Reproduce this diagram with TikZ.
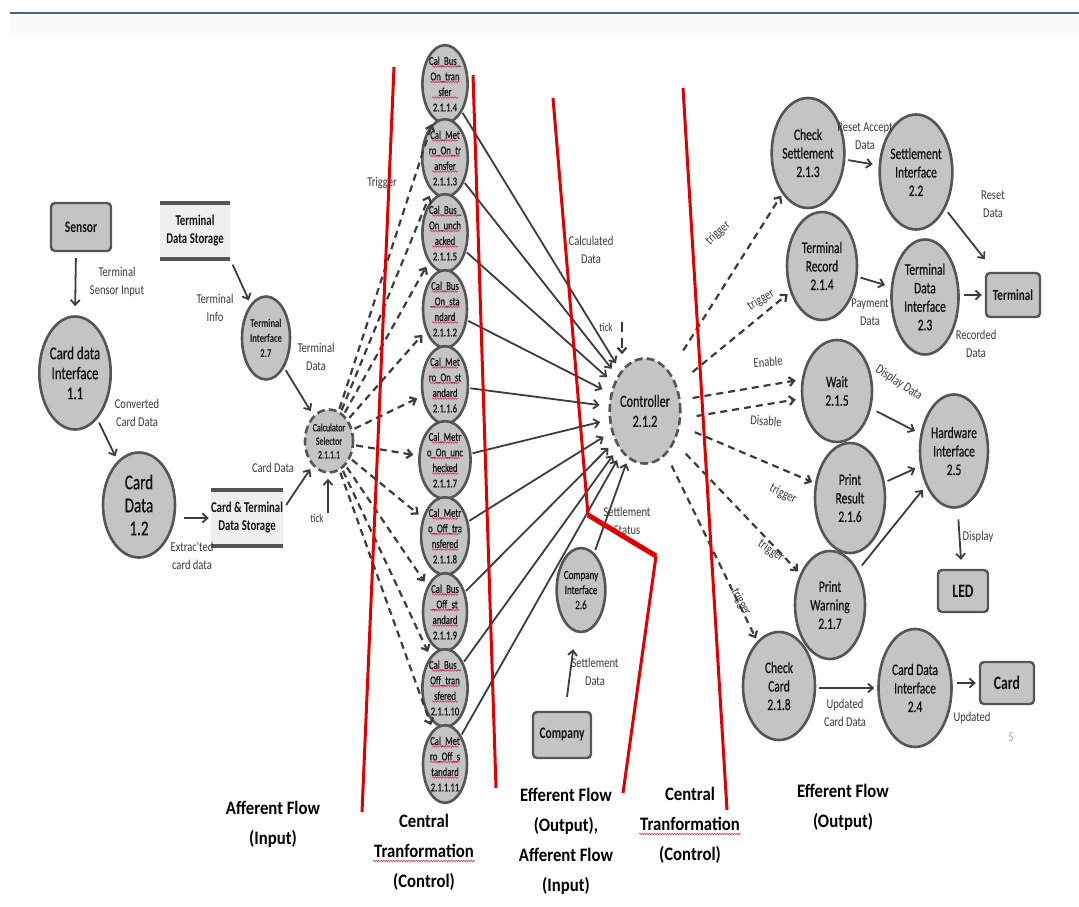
\documentclass[tikz,border=0pt]{standalone}
\usepackage{fontspec}
\setmainfont{Carlito}[FakeStretch=0.72]
\newfontfamily\pf{Carlito}[FakeStretch=0.72, FakeBold=0.6]
\newfontfamily\bigf{Carlito}[FakeStretch=0.88]
\newfontfamily\lblf{Carlito}[FakeStretch=0.78]
\usetikzlibrary{shapes.geometric,arrows.meta,calc,decorations.pathmorphing}
\definecolor{bordc}{HTML}{555555}
\definecolor{pfill}{HTML}{C4C4C4}
\definecolor{sfill}{HTML}{EFEFEF}
\definecolor{edgec}{HTML}{3C3C3C}
\definecolor{lblc}{HTML}{3A3A3A}
\definecolor{txtc}{HTML}{111111}
\definecolor{redc}{HTML}{E00000}
\definecolor{topc}{HTML}{4B6580}
\definecolor{wavc}{HTML}{D04060}
\tikzset{
 proc/.style={ellipse, draw=bordc, line width=2.6pt, fill=pfill, inner sep=0pt, align=center, text=txtc},
 dproc/.style={proc, dash pattern=on 8pt off 4pt},
 entity/.style={rectangle, rounded corners=4pt, draw=bordc, line width=2.4pt, fill=pfill, align=center, inner sep=0pt, text=txtc, font=\bfseries\fontsize{16}{18}\selectfont},
 store/.style={rectangle, fill=sfill, align=center, inner sep=0pt, text=txtc, font=\bfseries\fontsize{15}{18}\selectfont},
 bar/.style={draw=bordc, line width=4.5pt},
 arr/.style={draw=edgec, line width=1.8pt, -{Straight Barb[length=5pt,width=9pt]}},
 darr/.style={arr, line width=2.2pt, dash pattern=on 7pt off 5pt},
 lbl/.style={font=\lblf\fontsize{13.5}{18}\selectfont, text=lblc, align=center, inner sep=1pt},
 redl/.style={draw=redc, line width=3pt},
 sec/.style={font=\bigf\bfseries\fontsize{19}{30}\selectfont, align=center, text=black},
 wavy/.style={draw=wavc, line width=0.6pt, decorate, decoration={snake, segment length=2.5pt, amplitude=0.8pt}},
 fbig/.style={font=\pf\fontsize{21}{23}\selectfont},
 fmid/.style={font=\pf\fontsize{18}{20}\selectfont},
 fstd/.style={font=\pf\fontsize{16}{18.5}\selectfont},
 ftin/.style={font=\pf\fontsize{12}{15.5}\selectfont},
}
\begin{document}
\begin{tikzpicture}[x=1pt,y=-1pt]
\useasboundingbox (0,0) rectangle (1079,907);
\fill[white] (0,0) rectangle (1079,907);
\fill[topc!3] (10,15) rectangle (1079,36);
\draw[topc, line width=2.5pt] (10,13) -- (1079,13);

% ---------------- left: afferent flow
\node[entity, minimum width=60, minimum height=48] (sensor) at (81,227) {Sensor};
\node[proc, fmid, minimum width=70, minimum height=113] (c11) at (75,373) {Card data\\Interface\\1.1};
\node[proc, fbig, minimum width=72, minimum height=105] (c12) at (139,505) {Card\\Data\\1.2};
\node[store, minimum width=70, minimum height=56] (tds) at (195,231) {Terminal\\Data Storage};
\draw[bar] (tds.north west) -- (tds.north east);
\draw[bar] (tds.south west) -- (tds.south east);
\node[store, minimum width=72, minimum height=56] (cts) at (247,518) {Card \& Terminal\\Data Storage};
\draw[bar] (cts.north west) -- (cts.north east);
\draw[bar] (cts.south west) -- (cts.south east);
\node[proc, font=\bfseries\fontsize{12}{15}\selectfont, minimum width=48, minimum height=83] (t27) at (266,338) {Terminal\\Interface\\2.7};
\node[dproc, font=\pf\fontsize{11}{13.5}\selectfont, minimum width=48, minimum height=63] (sel) at (329,441) {Calculator\\Selector\\2.1.1.1};
\coordinate (tick1) at (328,513);

\draw[arr, shorten <=6pt, shorten >=9pt] ([xshift=-5pt]sensor.south) -- (c11.north);
\node[lbl] at (117,282) {Terminal\\Sensor Input};
\draw[arr, shorten <=4pt, shorten >=5pt] (c11) -- (c12);
\node[lbl] at (137,413) {Converted\\Card Data};
\draw[arr, shorten <=8pt, shorten >=2pt] (c12.east |- cts.west) -- (cts.west);
\node[lbl] at (192,556) {Extrac'ted\\card data};
\draw[arr, shorten >=4pt] ([shift={(3,-13)}]cts.east) -- (sel);
\node[lbl] at (273,468) {Card Data};
\draw[arr, shorten <=6pt, shorten >=4pt] (tds.south east) -- (t27);
\node[lbl] at (215,308) {Terminal\\Info};
\draw[arr, shorten <=3pt, shorten >=5pt] (t27) -- (sel);
\node[lbl] at (316,357) {Terminal\\Data};
\draw[arr, shorten >=5pt] (tick1) -- (tick1 |- sel.south);
\node[lbl, font=\lblf\fontsize{12}{14}\selectfont] (ticklbl1) at (317,518) {tick};

% ---------------- central column
\foreach \n/\y/\t in {
 1/84/{Cal\_Bus\_\\On\_tran\\sfer\\2.1.1.4},
 2/158/{Cal\_Met\\ro\_On\_tr\\ansfer\\2.1.1.3},
 3/233/{Cal\_Bus\_\\On\_unch\\acked\\2.1.1.5},
 4/309/{Cal\_Bus\\\_On\_sta\\ndard\\2.1.1.2},
 5/385/{Cal\_Met\\ro\_On\_st\\andard\\2.1.1.6},
 6/460/{Cal\_Metr\\o\_On\_unc\\hecked\\2.1.1.7},
 7/536/{Cal\_Metr\\o\_Off\_tra\\nsfered\\2.1.1.8},
 8/612/{Cal\_Bus\\\_Off\_st\\andard\\2.1.1.9},
 9/688/{Cal\_Bus\_\\Off\_tran\\sfered\\2.1.1.10},
 10/764/{Cal\_Met\\ro\_Off\_s\\tandard\\2.1.1.11}} {
 \node[proc, ftin, minimum width=44, minimum height=68] (cal\n) at (445,\y) {\t};
 \draw[wavy] ([shift={(-13,-17.5)}]cal\n.center) -- ([shift={(13,-17.5)}]cal\n.center);
 \draw[wavy] ([shift={(-15,-2)}]cal\n.center) -- ([shift={(15,-2)}]cal\n.center);
 \draw[wavy] ([shift={(-13,13.5)}]cal\n.center) -- ([shift={(13,13.5)}]cal\n.center);
}
\node[dproc, font=\pf\fontsize{17}{20}\selectfont, minimum width=70, minimum height=105] (ctrl) at (645,411) {Controller\\2.1.2};
\foreach \n in {1,...,10} {
 \draw[darr, shorten <=2pt, shorten >=5pt] (sel) -- (cal\n);
 \draw[arr, shorten <=1pt, shorten >=9pt] (cal\n) -- (ctrl);
}
\node[lbl] at (382,183) {Trigger};
\node[lbl] at (591,250) {Calculated\\Data};
\coordinate (tick2) at (622,322);
\draw[darr, dash pattern=on 10pt off 6pt, shorten >=3pt] (tick2) -- (tick2 |- ctrl.north);
\node[lbl, font=\lblf\fontsize{12}{14}\selectfont] at (606,327) {tick};

% company
\node[proc, font=\pf\fontsize{12.5}{15}\selectfont, minimum width=42, minimum height=84] (c26) at (581,590) {Company\\Interface\\2.6};
\node[entity, minimum width=58, minimum height=46] (company) at (562,735) {Company};
\draw[arr, shorten <=3pt, shorten >=5pt] (c26) -- (ctrl);
\node[lbl] at (627,521) {Settlement\\Status};
\draw[arr, shorten <=14pt, shorten >=17pt] (company) -- (c26);
\node[lbl] at (595,672) {Settlement\\Data};

% ---------------- right: efferent flow
\node[proc, fstd, minimum width=70, minimum height=110] (c213) at (808,153) {Check\\Settlement\\2.1.3};
\node[proc, fstd, minimum width=68, minimum height=115] (c22) at (916,172) {Settlement\\Interface\\2.2};
\node[proc, fstd, minimum width=70, minimum height=108] (c214) at (822,266) {Terminal\\Record\\2.1.4};
\node[proc, fstd, minimum width=67, minimum height=115] (c23) at (925,297) {Terminal\\Data\\Interface\\2.3};
\node[entity, font=\bfseries\fontsize{15.5}{17}\selectfont, minimum width=54, minimum height=44] (terminal) at (1013,295) {Terminal};
\node[proc, fstd, minimum width=70, minimum height=102] (c215) at (837,391) {Wait\\2.1.5};
\node[proc, fstd, minimum width=68, minimum height=113] (c25) at (954,451) {Hardware\\Interface\\2.5};
\node[proc, fstd, minimum width=70, minimum height=110] (c216) at (850,498) {Print\\Result\\2.1.6};
\node[proc, fstd, minimum width=70, minimum height=108] (c217) at (830,605) {Print\\Warning\\2.1.7};
\node[entity, font=\bfseries\fontsize{19}{20}\selectfont, minimum width=50, minimum height=42] (led) at (963,591) {LED};
\node[proc, fstd, minimum width=72, minimum height=108] (c218) at (779,686) {Check\\Card\\2.1.8};
\node[proc, fstd, minimum width=73, minimum height=118] (c24) at (915,688) {Card Data\\Interface\\2.4};
\node[entity, font=\bfseries\fontsize{19}{20}\selectfont, minimum width=54, minimum height=42] (card) at (1007,683) {Card};

\draw[darr, shorten <=25pt, shorten >=2pt] (ctrl) -- (c213);
\node[lbl, rotate=42] at (718,233) {trigger};
\draw[darr, shorten <=20pt, shorten >=3pt] (ctrl) -- (c214);
\node[lbl, rotate=30] at (761,300) {trigger};
\draw[darr, shorten >=3pt] ([shift={(11,-13)}]ctrl.east) -- ([shift={(-2,-11)}]c215.west);
\node[lbl, rotate=4] at (768,362) {Enable};
\draw[darr, shorten >=3pt] ([shift={(15,5)}]ctrl.east) -- ([shift={(-2,8)}]c215.west);
\node[lbl, rotate=-4] at (766,421) {Disable};
\draw[darr, shorten <=16pt, shorten >=3pt] (ctrl) -- (c216);
\node[lbl, rotate=-27] at (783,494) {trigger};
\draw[darr, shorten <=16pt, shorten >=3pt] (ctrl) -- (c217);
\node[lbl, rotate=-35] at (771,551) {trigger};
\draw[darr, shorten <=12pt, shorten >=3pt] (ctrl) -- (c218);
\node[lbl, rotate=-62] at (741,602) {trigger};

\draw[arr, shorten <=3pt, shorten >=6pt] (c213) -- (c22);
\node[lbl] at (865,136) {Reset Accept\\Data};
\draw[arr, shorten <=3pt, shorten >=6pt] (c214) -- (c23);
\node[lbl] at (870,312) {Payment\\Data};
\draw[arr, shorten <=4pt, shorten >=16pt] (c22) -- (terminal);
\node[lbl] at (993,204) {Reset\\Data};
\draw[arr, shorten <=4pt, shorten >=3pt] (c23.east |- terminal.west) -- (terminal.west);
\node[lbl] at (976,344) {Recorded\\Data};
\draw[arr, shorten <=6pt, shorten >=6pt] (c215) -- (c25);
\node[lbl, rotate=-33] at (899,383) {Display Data};
\draw[arr, shorten <=3pt, shorten >=5pt] (c216) -- (c25);
\draw[arr, shorten <=6pt, shorten >=5pt] (c217) -- (c25);
\draw[arr, shorten <=11pt, shorten >=9pt] (c25) -- (led);
\node[lbl] at (978,537) {Display};
\draw[arr, shorten <=3pt, shorten >=3pt] (c218.east |- c24.west) -- (c24.west);
\node[lbl] at (845,713) {Updated\\Card Data};
\draw[arr, shorten <=4pt, shorten >=3pt] (c24.east |- card.west) -- (card.west);
\node[lbl] at (972,718) {Updated};
\node[lbl, text=gray!70] at (1011,737) {5};

% ---------------- red section boundaries
\draw[redl] (394,67) -- (362,812);
\draw[redl] (473,75) -- (496,788);
\draw[redl] (553,98) -- (588,515);
\draw[redl, line width=5pt] (588,515) -- (656,556);
\draw[redl] (656,556) -- (623,793);
\draw[redl] (683,88) -- (727,810);

% ---------------- section titles
\node[sec] (t1) at (273,824) {Afferent Flow\\(Input)};
\node[sec] (t2) at (424,852) {Central\\Tranformation\\(Control)};
\node[sec] (t3) at (566,841) {Efferent Flow\\(Output),\\Afferent Flow\\(Input)};
\node[sec] (t4) at (690,825) {Central\\Tranformation\\(Control)};
\node[sec] (t5) at (843,807) {Efferent Flow\\(Output)};
\draw[wavy] ([shift={(-51,9)}]t2.center) -- ([shift={(51,9)}]t2.center);
\draw[wavy] ([shift={(-51,9)}]t4.center) -- ([shift={(51,9)}]t4.center);
\end{tikzpicture}
\end{document}
